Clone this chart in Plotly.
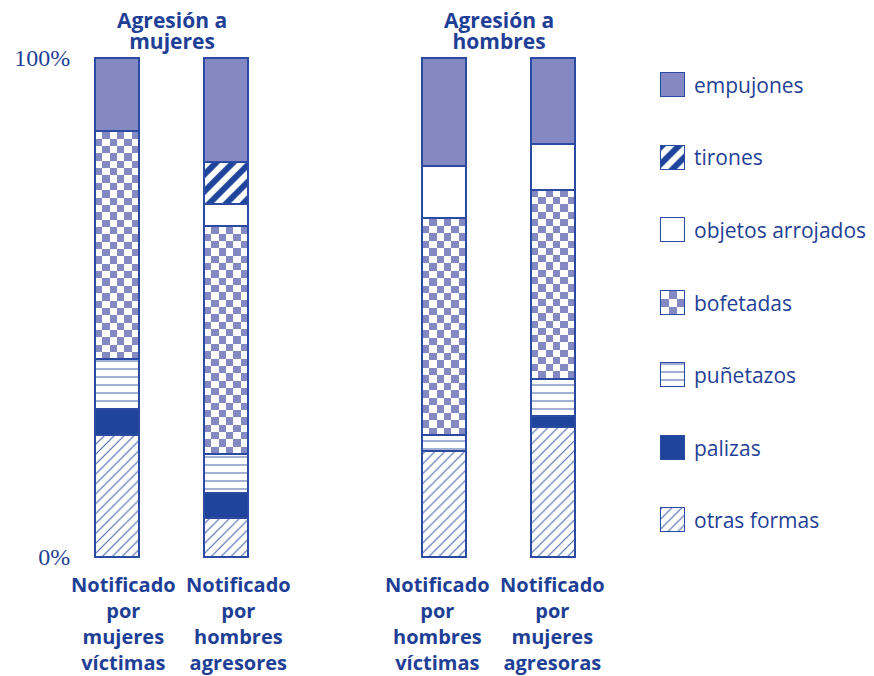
import numpy as np
import plotly.graph_objects as go

# ---------------- data ----------------
bar_labels = ["Notificado<br>por<br>mujeres<br>víctimas",
              "Notificado<br>por<br>hombres<br>agresores",
              "Notificado<br>por<br>hombres<br>víctimas",
              "Notificado<br>por<br>mujeres<br>agresoras"]
group_titles = [["Agresión a", "mujeres"], ["Agresión a", "hombres"]]

# stacked bottom -> top, percent of each bar
otras_formas = [24.4, 7.8, 21.2, 26.1]
palizas = [5.2, 5.0, 0, 2.2]
punetazos = [10.0, 7.8, 3.2, 7.4]
bofetadas = [45.7, 45.7, 43.5, 37.9]
objetos_arrojados = [0, 4.4, 10.4, 9.2]
tirones = [0, 8.4, 0, 0]
empujones = [14.6, 20.8, 21.6, 17.2]

series_names = ["otras formas", "palizas", "puñetazos", "bofetadas",
                "objetos arrojados", "tirones", "empujones"]
series_values = [otras_formas, palizas, punetazos, bofetadas,
                 objetos_arrojados, tirones, empujones]

y_tick_vals = [0, 100]
y_tick_text = ["0%", "100%"]

# ---------------- styling / layout ----------------
W, H = 874, 676
TEXT = "#1f3f96"
LINE = "#2b4ba3"
PERI = "#8489c4"
PALI = "#1f449c"
WHITE = "#ffffff"
CHECK_SCALE = [[0, WHITE], [1, PERI]]


def fx(px):
    return px / W


def fy(py):
    return 1 - py / H


x_pos = [0, 1, 3, 4]
label_xshift = [6, 12, -7, -1]
bar_w = 0.404
x_unit_px, x0_px = 109, 117
x_range = [-0.42, 4.6]
y_range = [-1, 101]
y_unit_px, y0_px = 4.99, 557
x_dom = [fx(x0_px + x_range[0] * x_unit_px), fx(x0_px + x_range[1] * x_unit_px)]
y_dom = [fy(y0_px - y_range[0] * y_unit_px), fy(y0_px - y_range[1] * y_unit_px)]

styles = {
    "otras formas": dict(color=WHITE, pattern=dict(shape="/", fgcolor=LINE, size=7, solidity=0.16, fgopacity=0.85)),
    "palizas": dict(color=PALI),
    "puñetazos": dict(color=WHITE, pattern=dict(shape="-", fgcolor=LINE, size=8, solidity=0.14, fgopacity=0.8)),
    "bofetadas": dict(color="rgba(0,0,0,0)"),
    "objetos arrojados": dict(color=WHITE),
    "tirones": dict(color=WHITE, pattern=dict(shape="/", fgcolor=PALI, size=12, solidity=0.5, fgopacity=1)),
    "empujones": dict(color=PERI),
}

fig = go.Figure()


def checker(x0, x1, y0, y1, ncol, nrow, xa, ya):
    z = [[(i + j) % 2 for j in range(ncol)] for i in range(nrow)]
    return go.Heatmap(x=np.linspace(x0, x1, ncol + 1), y=np.linspace(y0, y1, nrow + 1), z=z,
                      colorscale=CHECK_SCALE, zmin=0, zmax=1, showscale=False,
                      hoverinfo="skip", xaxis=xa, yaxis=ya)


# checkerboard texture for "bofetadas" segments
bof_idx = series_names.index("bofetadas")
for k, xp in enumerate(x_pos):
    base = sum(series_values[s][k] for s in range(bof_idx))
    h = bofetadas[k]
    nrow = max(1, int(round(h * y_unit_px / 7.4)))
    fig.add_trace(checker(xp - bar_w / 2, xp + bar_w / 2, base, base + h, 6, nrow, "x", "y"))

# stacked bars
for name, vals in zip(series_names, series_values):
    st = styles[name]
    marker = dict(color=st["color"], line=dict(color=LINE, width=2))
    if "pattern" in st:
        marker["pattern"] = st["pattern"]
    fig.add_trace(go.Bar(x=x_pos, y=[v if v else None for v in vals], width=bar_w, name=name,
                         marker=marker, showlegend=False, hoverinfo="skip",
                         xaxis="x", yaxis="y"))

# custom legend (axes x2/y2 in pixel units)
legend_order = list(reversed(series_names))
sw, sx, top0, gap = 24, 661, 73, 72.5
for i, name in enumerate(legend_order):
    top = top0 + i * gap
    if name == "bofetadas":
        fig.add_trace(checker(sx, sx + sw, top, top + sw, 3, 3, "x2", "y2"))
    st = styles[name]
    marker = dict(color=st["color"], line=dict(color=LINE, width=1.5))
    if "pattern" in st:
        marker["pattern"] = st["pattern"]
    fig.add_trace(go.Bar(x=[sx + sw / 2], y=[sw], base=[top], width=[sw], marker=marker,
                         showlegend=False, hoverinfo="skip", xaxis="x2", yaxis="y2"))

annotations = []
FONT_LBL = dict(family="Open Sans", size=20, color=TEXT)
for i, name in enumerate(legend_order):
    annotations.append(dict(x=fx(692), y=fy(top0 + i * gap + sw / 2), xref="paper", yref="paper",
                            text=name, showarrow=False, xanchor="left", yanchor="middle",
                            font=dict(family="Open Sans", size=21, color=TEXT)))

for k, xp in enumerate(x_pos):
    annotations.append(dict(x=xp, y=fy(569), xref="x", yref="paper", text="<b>%s</b>" % bar_labels[k],
                            xshift=label_xshift[k],
                            showarrow=False, xanchor="center", yanchor="top", align="center", font=FONT_LBL))

for g, lines in enumerate(group_titles):
    xc = (x_pos[2 * g] + x_pos[2 * g + 1]) / 2
    txt = "<br>".join("<b><span style='font-size:21px'>%s</span></b>" % ln for ln in lines)
    annotations.append(dict(x=xc, y=fy(4), xref="x", yref="paper", text=txt,
                            showarrow=False, xanchor="center", yanchor="top", align="center",
                            font=dict(family="Open Sans", size=16, color=TEXT)))

fig.update_layout(
    width=W, height=H, margin=dict(l=0, r=0, t=0, b=0, pad=0),
    paper_bgcolor="white", plot_bgcolor="white",
    barmode="stack", bargap=0,
    xaxis=dict(domain=x_dom, range=x_range, showgrid=False, zeroline=False, showticklabels=False,
               showline=False, ticks="", automargin=False),
    yaxis=dict(domain=y_dom, range=y_range, showgrid=False, zeroline=False, showline=False,
               tickvals=y_tick_vals, ticktext=y_tick_text, ticks="", automargin=False,
               tickfont=dict(family="Liberation Serif", size=24, color=TEXT)),
    xaxis2=dict(domain=[fx(655), 1], range=[655, 874], visible=False, automargin=False),
    yaxis2=dict(domain=[0, 1], range=[676, 0], visible=False, automargin=False),
    annotations=annotations,
)

fig.write_html("out.html", config={"displayModeBar": False},
               post_script="document.body.style.margin='0';document.body.style.overflow='hidden';")
